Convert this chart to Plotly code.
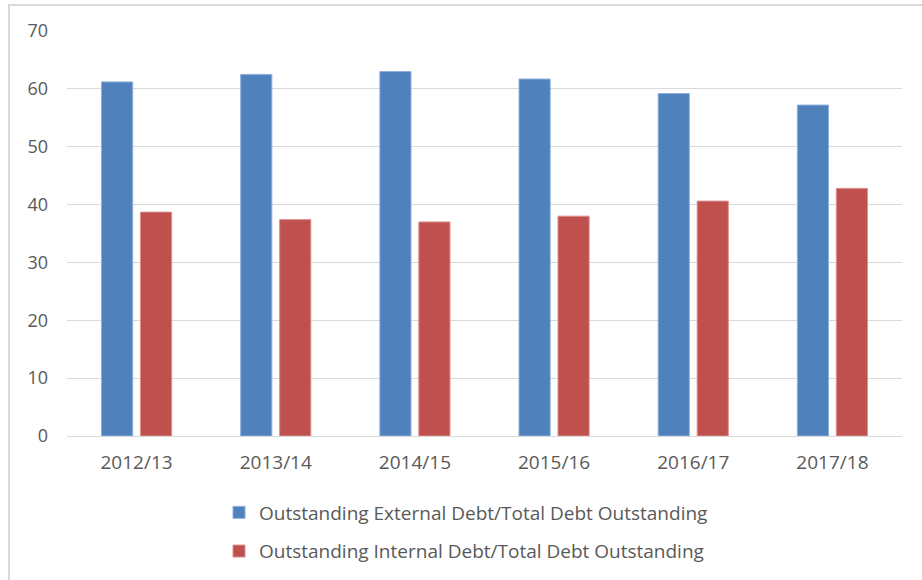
import plotly.graph_objects as go

categories = ["2012/13", "2013/14", "2014/15", "2015/16", "2016/17", "2017/18"]
external = [61.2, 62.5, 63.0, 61.7, 59.2, 57.2]
internal = [38.7, 37.4, 37.0, 38.0, 40.6, 42.8]
name_ext = "Outstanding External Debt/Total Debt Outstanding"
name_int = "Outstanding Internal Debt/Total Debt Outstanding"

FONT = "Open Sans"
TXT = "#595959"

fig = go.Figure()
fig.add_trace(go.Bar(x=categories, y=external, name=name_ext, legendgroup="a",
                     marker=dict(color="#4F81BD",
                                 line=dict(color="#8EB0DC", width=1))))
fig.add_trace(go.Bar(x=categories, y=internal, name=name_int, legendgroup="b",
                     marker=dict(color="#C0504D",
                                 line=dict(color="#DA9290", width=1))))

fig.update_layout(
    width=922, height=580,
    margin=dict(l=67, r=20, t=31, b=144, autoexpand=False),
    paper_bgcolor="white", plot_bgcolor="white",
    barmode="group", bargap=0.44, bargroupgap=0.2,
    font=dict(family=FONT, color=TXT),
    legend=dict(x=(219 - 67) / 835, y=1 - 532 / 580, yref="container",
                xanchor="left", yanchor="middle", traceorder="grouped",
                tracegroupgap=11, font=dict(family=FONT, size=19, color=TXT),
                bgcolor="rgba(0,0,0,0)"),
    xaxis=dict(showgrid=False, showline=True, linecolor="#d9d9d9", linewidth=1,
               ticks="", tickfont=dict(family=FONT, size=19, color=TXT),
               ticklabelstandoff=9),
    yaxis=dict(range=[0, 70], dtick=10, showgrid=True, gridcolor="#d9d9d9",
               gridwidth=1, zeroline=False, showline=False, ticks="",
               tickfont=dict(family=FONT, size=18, color=TXT),
               ticklabelstandoff=18),
    shapes=[dict(type="rect", xref="paper", yref="paper",
                 x0=(9 - 67) / 835, x1=1.1, y0=-0.5, y1=1 + (31 - 5) / 405,
                 line=dict(color="#d9d9d9", width=2), fillcolor="rgba(0,0,0,0)",
                 layer="below")],
)

fig.write_html("out.html", config={"displayModeBar": False},
               post_script="document.body.style.margin='0';"
                           "document.body.style.overflow='hidden';")
